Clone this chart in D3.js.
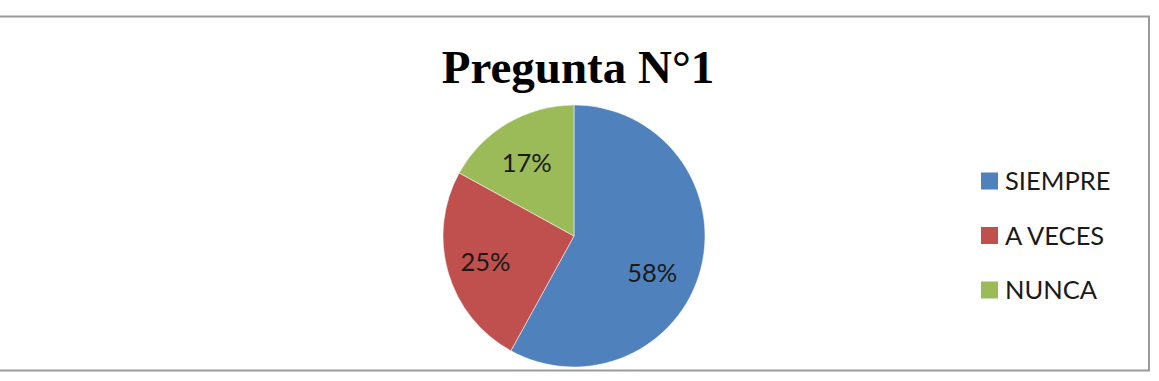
<!DOCTYPE html>
<html><head><meta charset="utf-8">
<script src="https://cdn.jsdelivr.net/npm/d3@7"></script>
<style>html,body{margin:0;padding:0;background:#fff;}svg{display:block;}</style>
</head><body>
<svg id="chart" width="1159" height="381"></svg>
<script>
const title = "Pregunta N°1";
const categories = ["SIEMPRE", "A VECES", "NUNCA"];
const values = [58, 25, 17];
const labels = ["58%", "25%", "17%"];
const colors = ["#4F81BD", "#C0504D", "#9BBB59"];

const svg = d3.select("#chart");
svg.append("rect").attr("x", -5).attr("y", 16.5).attr("width", 1154).attr("height", 354)
  .attr("fill", "#fff").attr("stroke", "#9a9a9a").attr("stroke-width", 2);

svg.append("text").attr("x", 578).attr("y", 83).attr("text-anchor", "middle")
  .attr("font-family", "'Liberation Serif','Times New Roman',serif").attr("font-weight", "bold")
  .attr("font-size", 47).attr("fill", "#000").text(title);

const cx = 574, cy = 236, r = 131;
const pie = d3.pie().sort(null).value(d => d)(values);
const arc = d3.arc().innerRadius(0).outerRadius(r);
const g = svg.append("g").attr("transform", `translate(${cx},${cy})`);
g.selectAll("path").data(pie).join("path").attr("d", arc)
  .attr("fill", (d, i) => colors[i]).attr("stroke", "#fff").attr("stroke-width", 0.5);
const labelArc = d3.arc().innerRadius(r * 0.68).outerRadius(r * 0.68);
// small per-slice label nudges (layout only)
const nudge = [[-8, 15], [-3, 1], [-2, 3]];
g.selectAll("text").data(pie).join("text")
  .attr("transform", (d, i) => {
    const c = labelArc.centroid(d);
    return `translate(${c[0] + nudge[i][0]},${c[1] + nudge[i][1]})`;
  })
  .attr("text-anchor", "middle").attr("dy", "0.36em")
  .attr("font-family", "Lato, 'Open Sans', sans-serif").attr("font-size", 25.5).attr("fill", "#1a1a1a")
  .text((d, i) => labels[i]);

const legendY = d3.scalePoint().domain(categories).range([181, 290]);
const lg = svg.append("g");
lg.selectAll("rect").data(categories).join("rect")
  .attr("x", 981).attr("y", d => legendY(d) - 8.5).attr("width", 17).attr("height", 17)
  .attr("fill", (d, i) => colors[i]);
lg.selectAll("text").data(categories).join("text")
  .attr("x", 1005).attr("y", d => legendY(d)).attr("dy", "0.36em")
  .attr("font-family", "Lato, 'Open Sans', sans-serif").attr("font-size", 25.5).attr("fill", "#1a1a1a")
  .text(d => d);
</script>
</body></html>
